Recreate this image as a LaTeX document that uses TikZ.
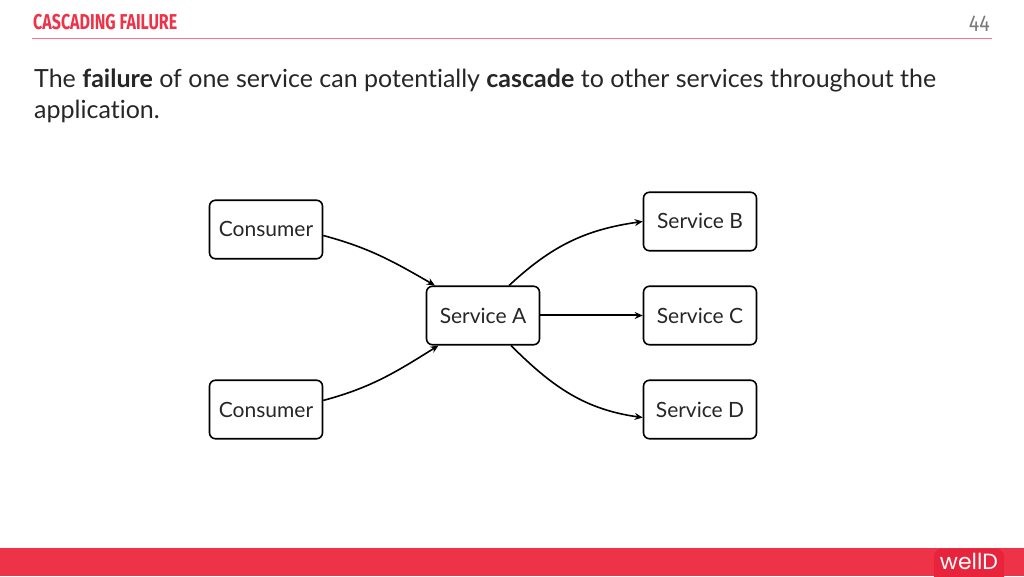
\documentclass[tikz,border=0pt]{standalone}
\usepackage{fontspec}
\setmainfont[Ligatures=NoCommon]{Lato}
\newfontfamily\titlefont[FakeStretch=0.745]{Fira Sans}
\newfontfamily\pagefont[FakeStretch=0.86]{Fira Sans}
\newfontfamily\logofont{Poppins}
\usetikzlibrary{arrows.meta}
\definecolor{brandred}{HTML}{EE3248}
\definecolor{logored}{HTML}{E8233C}
\definecolor{rulered}{HTML}{FB7386}
\definecolor{inkdark}{HTML}{262626}
\definecolor{pagegray}{HTML}{7A7A7A}
\tikzset{
  svc/.style={draw=black,line width=1.6pt,rounded corners=6pt,minimum width=113pt,minimum height=58.5pt,inner sep=0pt,text height=15pt,text depth=0pt,font=\fontsize{21}{24}\selectfont,text=inkdark,anchor=center},
  link/.style={draw=black,line width=1.6pt,-{Stealth[length=8pt,width=7pt]}}
}
\begin{document}
\begin{tikzpicture}[x=1pt,y=1pt]
\useasboundingbox (0,0) rectangle (1024,576);
\fill[brandred] (0,0) rectangle (1024,28);
\fill[logored,rounded corners=8pt] (934,-10) rectangle (1004,27.5);
\node[anchor=center,text=white,inner sep=0pt,font=\logofont\fontsize{22}{25}\selectfont] (logo) at (969,15) {wellD};
\node[anchor=base west,inner sep=0pt,text=brandred,font=\titlefont\bfseries\fontsize{21.5}{24}\selectfont] (title) at (33,546.5) {CASCADING FAILURE};
\node[anchor=base east,inner sep=0pt,text=pagegray,font=\pagefont\fontsize{23}{26}\selectfont] (page) at (990,544) {44};
\draw[rulered,line width=1.3pt] (32,537.5) -- (992,537.5);
\node[anchor=base west,inner sep=0pt,text=inkdark,font=\fontsize{25}{31}\selectfont] (l1) at (34,488) {The \textbf{failure} of one service can potentially \textbf{cascade} to other services throughout the};
\node[anchor=base west,inner sep=0pt,text=inkdark,font=\fontsize{25}{31}\selectfont] (l2) at (34,457) {application.};
\node[svc] (c1) at (266,346.5) {Consumer};
\node[svc] (c2) at (266,166.5) {Consumer};
\node[svc] (a) at (483,260.5) {Service A};
\node[svc] (b) at (700,354.5) {Service B};
\node[svc] (c) at (700,260.5) {Service C};
\node[svc] (d) at (700,166.5) {Service D};
\draw[link] (c1.-6.5) to[out=-15,in=150] (a.148.4);
\draw[link] (c2.9.5) to[out=15,in=212] (a.214.5);
\draw[link] (a.49.7) to[out=43,in=188] (b.west);
\draw[link,line width=2pt] (a.east) -- (c.west);
\draw[link] (a.-47.5) to[out=-45,in=172] (d.188.5);
\end{tikzpicture}
\end{document}
